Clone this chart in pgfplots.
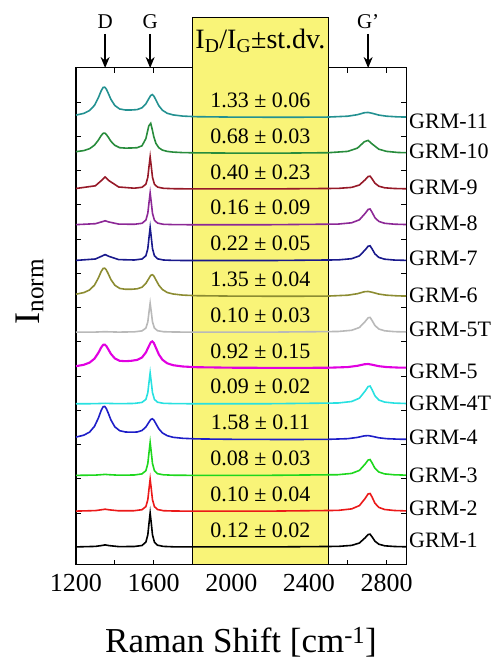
\documentclass[border=0pt]{standalone}
\usepackage{pgfplots}
\pgfplotsset{compat=1.18}
\usepackage{pgfplotstable}
\usepackage{fontspec}
\setmainfont{Liberation Serif}
\usetikzlibrary{arrows.meta}

\definecolor{boxyellow}{RGB}{249,244,120}
\definecolor{gra}{RGB}{0,0,0}
\definecolor{grb}{RGB}{235,25,25}
\definecolor{grc}{RGB}{30,215,30}
\definecolor{grd}{RGB}{30,30,200}
\definecolor{grdT}{RGB}{40,225,225}
\definecolor{gre}{RGB}{225,0,225}
\definecolor{greT}{RGB}{185,185,185}
\definecolor{grf}{RGB}{140,140,50}
\definecolor{grg}{RGB}{25,25,140}
\definecolor{grh}{RGB}{140,40,150}
\definecolor{gri}{RGB}{150,25,40}
\definecolor{grj}{RGB}{40,140,60}
\definecolor{grk}{RGB}{35,145,145}

% disordered spectra (normalised intensity, before vertical offset)
\pgfplotstableread{
x g4 g5 g6 g10 g11
1200 2.5 1.8 2.2 1.5 2.3
1240 4.4 3.2 3.8 2.6 4.0
1270 7.5 5.4 6.4 4.5 6.9
1295 13.2 9.3 11.2 8.0 12.0
1315 21.4 15.1 18.3 13.0 19.6
1330 29.3 20.6 25.0 17.7 26.7
1340 32.9 23.2 28.0 19.9 30.0
1348 33.2 23.4 28.2 20.1 30.2
1356 31.1 22.0 26.5 18.8 28.4
1366 26.6 18.8 22.7 16.1 24.2
1380 19.6 14.1 16.8 11.9 18.0
1400 12.8 9.6 11.2 7.9 11.9
1425 8.9 7.2 8.0 5.5 8.4
1455 7.6 6.8 7.1 5.1 7.4
1485 7.4 7.2 7.1 5.2 7.4
1515 7.6 8.1 7.6 5.5 7.8
1540 9.1 10.5 9.2 7.4 9.6
1560 12.6 15.5 13.0 14.6 13.6
1575 17.2 21.7 17.8 27.3 18.7
1585 20.1 25.6 21.0 29.9 21.9
1593 20.8 26.6 21.7 23.5 22.8
1601 19.6 25.0 20.4 16.3 21.4
1612 15.8 20.1 16.4 9.7 17.3
1627 10.7 13.5 11.1 5.4 11.6
1645 6.7 8.3 6.9 3.1 7.2
1670 3.9 4.7 3.9 1.8 4.1
1700 2.3 2.8 2.4 1.1 2.5
1750 1.3 1.5 1.3 0.6 1.3
1820 0.7 0.8 0.7 0.35 0.7
2000 0.3 0.3 0.3 0.1 0.3
2300 0.07 0.07 0.1 0.13 0.1
2500 0.28 0.28 0.35 0.5 0.35
2600 0.93 0.93 1.2 1.8 1.2
2650 2.2 2.2 2.7 5.1 2.7
2685 3.7 3.7 4.65 11.4 4.65
2705 4.0 4.0 4.95 12.8 4.95
2725 3.3 3.3 4.15 9.3 4.15
2760 1.8 1.8 2.3 4.0 2.3
2800 0.93 0.93 1.2 1.8 1.2
2860 0.42 0.42 0.5 0.7 0.5
2900 0.3 0.3 0.35 0.5 0.35
}\dis

% ordered spectra
\pgfplotstableread{
x g1 g2 g3 g4T g5T g7 g8 g9
1200 0.1 0.1 0.04 0 0 0.2 0.15 0.5
1300 0.6 0.6 0.3 0.13 0.13 1.6 1.1 3.2
1330 1.4 1.4 0.7 0.35 0.35 4.2 2.8 8.3
1350 2.1 2.0 1.0 0.5 0.5 6.0 4.0 12.0
1370 1.4 1.4 0.7 0.35 0.35 4.2 2.8 8.3
1420 0.4 0.4 0.2 0.1 0.1 1.0 0.7 2.0
1500 0.5 0.5 0.4 0.37 0.35 0.6 0.5 0.8
1540 1.5 1.5 1.5 1.4 1.3 1.6 1.5 1.7
1560 4.9 4.6 4.7 4.4 4.1 4.8 4.7 4.8
1570 12.2 11.5 11.9 11.2 10.4 12.0 11.6 11.7
1576 23.5 22.1 22.8 21.4 20.0 22.9 22.1 22.3
1582 34 32 33 31 29 33.1 32 32.2
1588 23.5 22.1 22.8 21.4 20.0 22.9 22.1 22.3
1594 12.2 11.5 11.9 11.2 10.4 12.0 11.5 11.7
1604 4.9 4.6 4.7 4.4 4.1 4.8 4.6 4.8
1620 1.8 1.7 1.7 1.6 1.5 1.8 1.7 1.9
1650 0.6 0.5 0.6 0.5 0.5 0.6 0.5 0.7
1700 0.2 0.2 0.2 0.2 0.2 0.2 0.2 0.3
1800 0.06 0.05 0.05 0.05 0.05 0.05 0.05 0.1
2200 0.06 0.08 0.08 0.08 0.07 0.07 0.08 0.06
2550 0.6 0.8 0.7 0.8 0.7 0.7 0.7 0.6
2620 1.6 2.3 2.0 2.3 1.9 1.9 2.0 1.6
2660 4.0 5.6 5.0 5.6 4.7 4.7 5.0 4.0
2690 9.3 12.9 11.5 12.9 10.8 10.8 11.5 9.3
2705 12.5 17.3 15.4 17.3 14.4 14.4 15.4 12.5
2715 12.8 17.7 15.8 17.7 14.8 14.8 15.8 12.8
2725 10.2 14.2 12.6 14.2 11.8 11.8 12.6 10.2
2740 5.8 8.0 7.1 8.0 6.7 6.7 7.1 5.8
2760 2.8 3.8 3.4 3.8 3.2 3.2 3.4 2.8
2790 1.2 1.7 1.5 1.7 1.4 1.4 1.5 1.2
2840 0.5 0.7 0.6 0.7 0.55 0.55 0.6 0.5
2900 0.2 0.3 0.26 0.3 0.24 0.24 0.26 0.2
}\ord

\begin{document}
\begin{tikzpicture}
\begin{axis}[
  width=330pt, height=497pt, scale only axis,
  xmin=1200, xmax=2900, ymin=-18, ymax=479,
  clip=false, set layers,
  axis line style={line width=1pt},
  tick align=inside,
  major tick length=5pt, minor tick length=5pt,
  tick style={line width=0.9pt, black},
  xtick={1200,1600,2000,2400,2800},
  minor xtick={1400,1800,2200,2600},
  ytick={34,68.25,102.5,136.75,171,205.25,239.5,273.75,308,342.25,376.5,410.75,445},
  yticklabels={},
  /pgf/number format/assume math mode=true,
  /pgf/number format/1000 sep={},
  xticklabel style={font=\fontsize{26}{26}\selectfont, yshift=-6pt},
  xlabel={Raman Shift [cm\textsuperscript{-1}]},
  xlabel style={font=\fontsize{35}{35}\selectfont, at={(axis description cs:0.5,-0.156)}, anchor=center},
  ylabel={I\textsubscript{norm}},
  ylabel style={font=\fontsize{36}{36}\selectfont, at={(axis description cs:-0.14,0.55)}, anchor=center},
  every axis plot/.append style={line width=1.6pt},
]
\draw[on layer=axis background, fill=boxyellow, line width=1pt] (axis cs:1800,-18) rectangle (axis cs:2500,529);

\addplot[gra] table[x=x, y expr=\thisrow{g1}+0] {\ord};
\addplot[grb] table[x=x, y expr=\thisrow{g2}+35.8] {\ord};
\addplot[grc] table[x=x, y expr=\thisrow{g3}+71.6] {\ord};
\addplot[grd] table[x=x, y expr=\thisrow{g4}+107.4] {\dis};
\addplot[grdT] table[x=x, y expr=\thisrow{g4T}+143.2] {\ord};
\addplot[gre, line width=2.1pt] table[x=x, y expr=\thisrow{g5}+179] {\dis};
\addplot[greT] table[x=x, y expr=\thisrow{g5T}+214.8] {\ord};
\addplot[grf] table[x=x, y expr=\thisrow{g6}+250.6] {\dis};
\addplot[grg] table[x=x, y expr=\thisrow{g7}+286.4] {\ord};
\addplot[grh] table[x=x, y expr=\thisrow{g8}+322.2] {\ord};
\addplot[gri] table[x=x, y expr=\thisrow{g9}+358] {\ord};
\addplot[grj] table[x=x, y expr=\thisrow{g10}+393.8] {\dis};
\addplot[grk] table[x=x, y expr=\thisrow{g11}+429.6] {\dis};

% ratio values
\begin{scope}[every node/.style={font=\fontsize{22}{22}\selectfont}]
\node at (axis cs:2150,446.6) {1.33 ± 0.06};
\node at (axis cs:2150,410.8) {0.68 ± 0.03};
\node at (axis cs:2150,375) {0.40 ± 0.23};
\node at (axis cs:2150,339.2) {0.16 ± 0.09};
\node at (axis cs:2150,303.4) {0.22 ± 0.05};
\node at (axis cs:2150,267.6) {1.35 ± 0.04};
\node at (axis cs:2150,231.8) {0.10 ± 0.03};
\node at (axis cs:2150,196) {0.92 ± 0.15};
\node at (axis cs:2150,160.2) {0.09 ± 0.02};
\node at (axis cs:2150,124.4) {1.58 ± 0.11};
\node at (axis cs:2150,88.6) {0.08 ± 0.03};
\node at (axis cs:2150,52.8) {0.10 ± 0.04};
\node at (axis cs:2150,17) {0.12 ± 0.02};
\end{scope}

% sample labels
\begin{scope}[every node/.style={font=\fontsize{22}{22}\selectfont, anchor=west, inner sep=0pt, xshift=3pt}]
\node at (axis cs:2900,426) {GRM-11};
\node at (axis cs:2900,396) {GRM-10};
\node at (axis cs:2900,360) {GRM-9};
\node at (axis cs:2900,324) {GRM-8};
\node at (axis cs:2900,289) {GRM-7};
\node at (axis cs:2900,252) {GRM-6};
\node at (axis cs:2900,218) {GRM-5T};
\node at (axis cs:2900,176) {GRM-5};
\node at (axis cs:2900,144) {GRM-4T};
\node at (axis cs:2900,110) {GRM-4};
\node at (axis cs:2900,72) {GRM-3};
\node at (axis cs:2900,39) {GRM-2};
\node at (axis cs:2900,7) {GRM-1};
\end{scope}

% header and band markers
\node[font=\fontsize{28}{28}\selectfont] at (axis cs:2150,506) {I\textsubscript{D}/I\textsubscript{G}±st.dv.};
\begin{scope}[every node/.style={font=\fontsize{21}{21}\selectfont}]
\node at (axis cs:1350,525) {D};
\node at (axis cs:1582,525) {G};
\node at (axis cs:2705,525) {G'};
\end{scope}
\draw[-{Stealth[length=11pt,width=9pt]}, line width=1.5pt] (axis cs:1350,513) -- (axis cs:1350,479);
\draw[-{Stealth[length=11pt,width=9pt]}, line width=1.5pt] (axis cs:1582,513) -- (axis cs:1582,479);
\draw[-{Stealth[length=11pt,width=9pt]}, line width=1.5pt] (axis cs:2705,513) -- (axis cs:2705,479);
\end{axis}
\pgfresetboundingbox
\path (-76pt,-96pt) rectangle (421pt,565pt);
\end{tikzpicture}
\end{document}
